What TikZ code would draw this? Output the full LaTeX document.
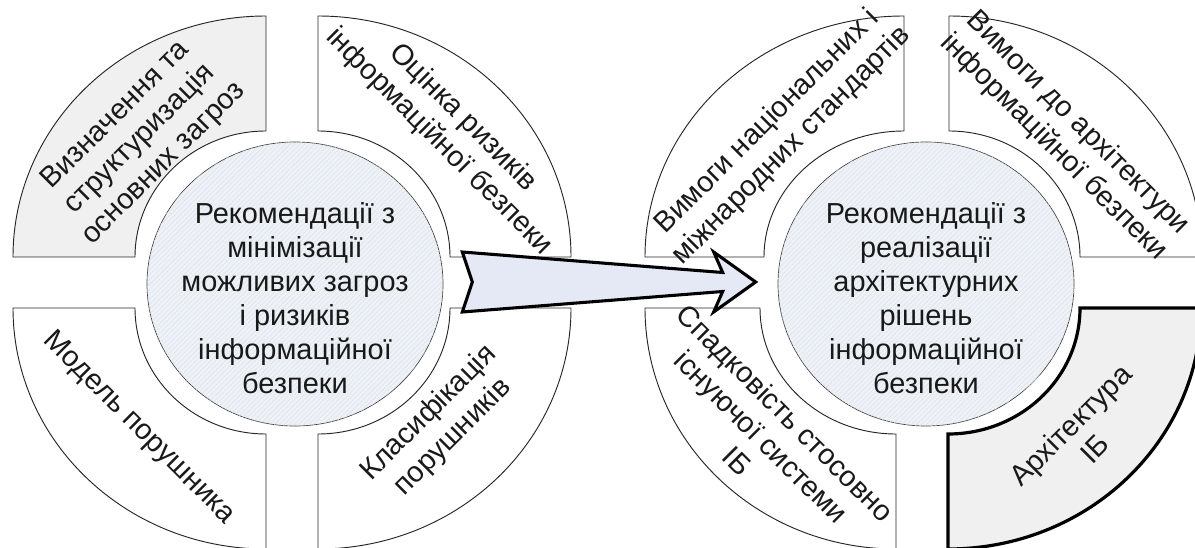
\documentclass[tikz,border=0pt]{standalone}
\usepackage{fontspec}
\setmainfont{Liberation Sans}
\usetikzlibrary{calc,shapes.geometric,patterns.meta}
\definecolor{segGray}{RGB}{240,240,240}
\definecolor{hubFill}{RGB}{237,242,249}
\definecolor{arrowFill}{RGB}{229,233,245}
\tikzset{
    seg/.style={
           draw=black!85,
           line width=0.7pt,
           fill=white,
           },
    seggray/.style={seg, fill=segGray},
    segbold/.style={seg, fill=segGray, draw=black, line width=2.4pt},
    hub/.style={
           ellipse,
           draw=black!75, line width=0.5pt,
           fill=hubFill,
           minimum width=222pt,
           minimum height=213pt,
           inner sep=0pt,
           postaction={pattern color=black!12,
                       pattern={Lines[angle=45,distance=2.6pt,line width=0.3pt]}},
           },
    txt/.style={
           align=center,
           inner sep=0pt,
           text=black!90,
           font=\fontsize{21.7}{25.5}\selectfont,
           },
    bigarrow/.style={draw=black, line width=2.3pt, fill=arrowFill, line join=miter},
}

\begin{document}
\begin{tikzpicture}[x=0.75pt,y=0.75pt]

 \useasboundingbox (0,0) rectangle (1195,547);
 \clip (0,0) rectangle (1195,547);

 % corners of the quarter rings (left and right diagram)
 \coordinate (LTL) at (266,290);
 \coordinate (LTR) at (318,290);
 \coordinate (LBL) at (266,239);
 \coordinate (LBR) at (318,239);
 \coordinate (RTL) at (904,290);
 \coordinate (RTR) at (949,290);
 \coordinate (RBL) at (896,239);
 \coordinate (RBR) at (948,239);

 % quarter rings: corner / start angle / outer x radius / inner x radius / style
 \foreach \c/\a/\ox/\ix/\st in {LTL/90/253/131/seggray, LTR/0/253/132/seg,
                                 LBL/180/253/131/seg, LBR/270/253/132/seg,
                                 RTL/90/259/140/seg, RTR/0/253/131/seg,
                                 RBL/180/251/136/seg, RBR/270/253/132/segbold}
   \draw[\st] (\c) ++({\a}:{\ox} and {241})
     arc[start angle=\a, delta angle=90, x radius=\ox, y radius=241]
     -- ($(\c)+({\a+90}:{\ix} and {126})$)
     arc[start angle=\a+90, delta angle=-90, x radius=\ix, y radius=126]
     -- cycle;

 % labels of the left diagram
 \node[txt, rotate=45] (threatsLbl) at ($(LTL)+(135:178 and 166)$)
 {Визначення та\\структуризація\\основних загроз};
 \node[txt, rotate=-45] (riskLbl) at ($(LTR)+(45:188 and 180)$)
 {Оцінка ризиків\\інформаційної безпеки};
 \node[txt, rotate=-45] (modelLbl) at ($(LBL)+(225:180 and 170)$)
 {Модель порушника};
 \node[txt, rotate=45] (classLbl) at ($(LBR)+(315:174 and 166)$)
 {Класифікація\\порушників};

 % labels of the right diagram
 \node[txt, rotate=45] (stdLbl) at ($(RTL)+(135:176 and 174)$)
 {Вимоги національних і\\міжнародних стандартів};
 \node[txt, rotate=-45] (reqLbl) at ($(RTR)+(45:165 and 172)$)
 {Вимоги до архітектури\\інформаційної безпеки};
 \node[txt, rotate=-45] (succLbl) at ($(RBL)+(225:190 and 182)$)
 {Спадковість стосовно\\існуючої системи\\ІБ};
 \node[txt, rotate=45] (archLbl) at ($(RBR)+(315:190 and 182)$)
 {Архітектура\\ІБ};

 % the two hubs
 \node[hub] (hubL) at (295,263) {};
 \node[hub] (hubR) at (926,263) {};
 \node[txt] (hubLtxt) at ($(hubL)+(0,-14)$)
 {Рекомендації з\\мінімізації\\можливих загроз\\і ризиків\\інформаційної\\безпеки};
 \node[txt] (hubRtxt) at ($(hubR)+(0,-14)$)
 {Рекомендації з\\реалізації\\архітектурних\\рішень\\інформаційної\\безпеки};

 % block arrow from left hub to right hub
 \coordinate (arrowTail) at ($(hubL.east)+(19,2)$);
 \coordinate (arrowTip) at ($(hubR.west)+(-22,2)$);
 \draw[bigarrow] ($(arrowTail)+(0,30)$) -- ($(arrowTip)+(-33,9.5)$)
   -- ($(arrowTip)+(-42,30)$) -- (arrowTip) -- ($(arrowTip)+(-42,-30)$)
   -- ($(arrowTip)+(-33,-9.5)$) -- ($(arrowTail)+(0,-30)$)
   -- ($(arrowTail)+(10,0)$) -- cycle;

\end{tikzpicture}
\end{document}
